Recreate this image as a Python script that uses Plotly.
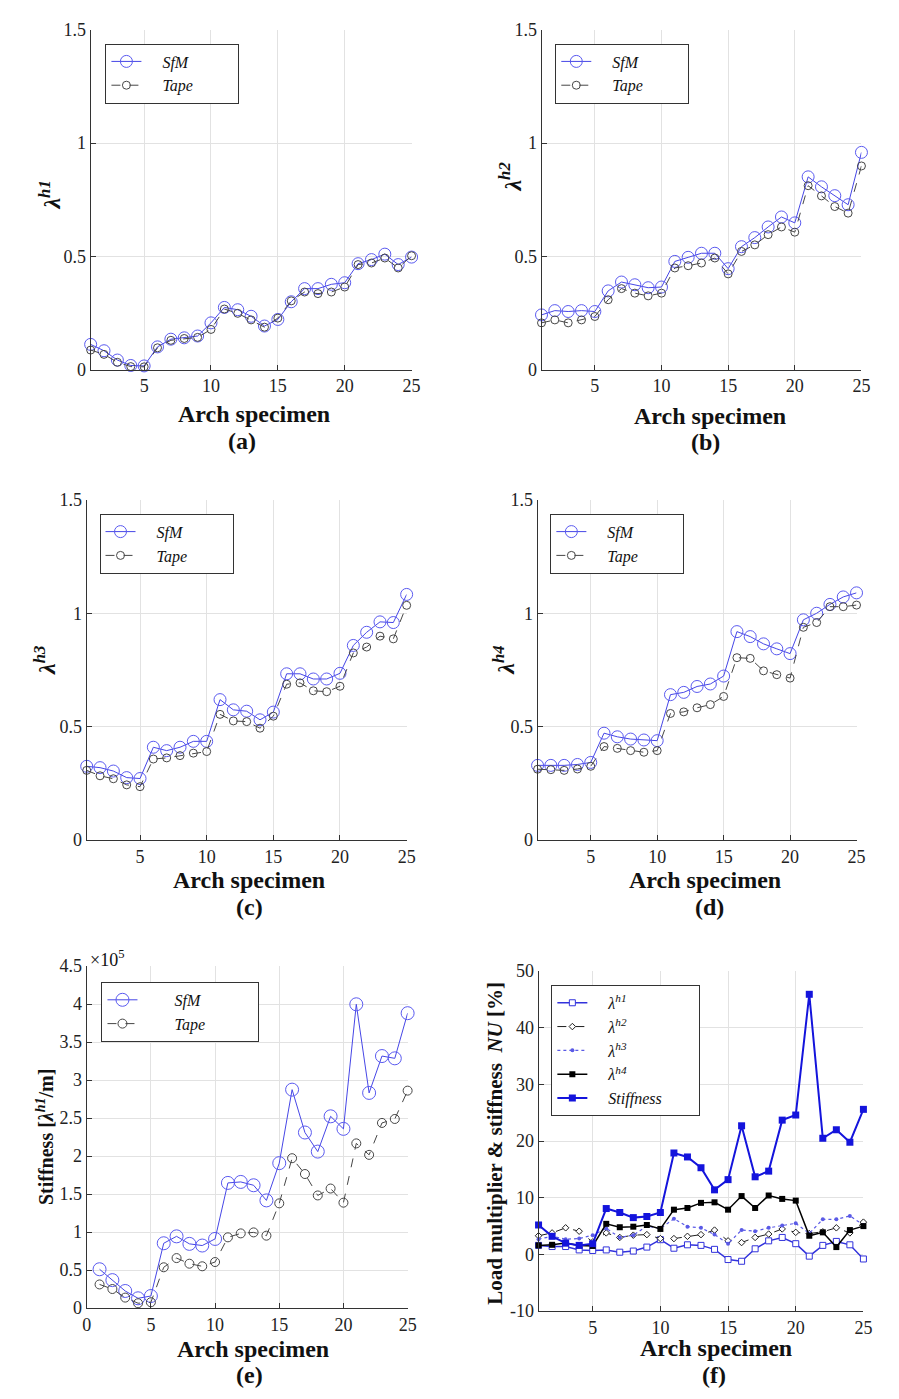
import plotly.graph_objects as go

W, H = 899, 1399
FONT = "Liberation Serif"

specimen = list(range(1, 26))

# (a) lambda h1
lh1_sfm = [0.112, 0.084, 0.043, 0.019, 0.017, 0.101, 0.135, 0.141, 0.149, 0.207,
           0.275, 0.265, 0.236, 0.193, 0.222, 0.300, 0.358, 0.358, 0.377, 0.384,
           0.468, 0.486, 0.510, 0.464, 0.497]
lh1_tape = [0.087, 0.068, 0.033, 0.014, 0.013, 0.097, 0.130, 0.138, 0.143, 0.178,
            0.268, 0.249, 0.220, 0.188, 0.228, 0.304, 0.343, 0.336, 0.343, 0.365,
            0.464, 0.471, 0.493, 0.449, 0.503]
# (b) lambda h2
lh2_sfm = [0.242, 0.261, 0.257, 0.261, 0.257, 0.348, 0.387, 0.375, 0.362, 0.365,
           0.478, 0.496, 0.514, 0.514, 0.446, 0.543, 0.583, 0.630, 0.674, 0.648,
           0.851, 0.807, 0.768, 0.728, 0.959]
lh2_tape = [0.207, 0.220, 0.207, 0.220, 0.235, 0.309, 0.358, 0.338, 0.326, 0.338,
            0.449, 0.459, 0.471, 0.493, 0.423, 0.522, 0.551, 0.596, 0.630, 0.607,
            0.812, 0.767, 0.720, 0.691, 0.899]
# (c) lambda h3
lh3_sfm = [0.325, 0.319, 0.304, 0.275, 0.271, 0.409, 0.394, 0.409, 0.435, 0.435,
           0.619, 0.574, 0.568, 0.530, 0.564, 0.733, 0.733, 0.710, 0.710, 0.735,
           0.858, 0.916, 0.962, 0.959, 1.083]
lh3_tape = [0.307, 0.283, 0.270, 0.243, 0.235, 0.357, 0.362, 0.372, 0.383, 0.390,
            0.554, 0.525, 0.522, 0.493, 0.546, 0.687, 0.693, 0.658, 0.654, 0.678,
            0.825, 0.851, 0.899, 0.887, 1.035]
# (d) lambda h4
lh4_sfm = [0.329, 0.329, 0.329, 0.333, 0.342, 0.471, 0.455, 0.445, 0.441, 0.438,
           0.641, 0.651, 0.677, 0.688, 0.723, 0.919, 0.897, 0.865, 0.843, 0.822,
           0.971, 1.000, 1.039, 1.072, 1.090]
lh4_tape = [0.312, 0.310, 0.307, 0.313, 0.325, 0.412, 0.404, 0.394, 0.387, 0.394,
            0.558, 0.565, 0.583, 0.597, 0.633, 0.804, 0.801, 0.746, 0.729, 0.714,
            0.938, 0.959, 1.029, 1.029, 1.036]
# (e) stiffness [lambda h1 / m]
stiff_sfm = [0.512e5, 0.369e5, 0.226e5, 0.130e5, 0.160e5, 0.854e5, 0.945e5, 0.846e5, 0.824e5, 0.911e5,
             1.648e5, 1.661e5, 1.617e5, 1.418e5, 1.908e5, 2.875e5, 2.311e5, 2.060e5, 2.524e5, 2.359e5,
             3.998e5, 2.832e5, 3.317e5, 3.287e5, 3.881e5]
stiff_tape = [0.312e5, 0.252e5, 0.139e5, 0.065e5, 0.078e5, 0.538e5, 0.659e5, 0.585e5, 0.551e5, 0.607e5,
              0.932e5, 0.984e5, 0.997e5, 0.954e5, 1.379e5, 1.973e5, 1.765e5, 1.483e5, 1.574e5, 1.388e5,
              2.168e5, 2.017e5, 2.437e5, 2.489e5, 2.862e5]
# (f) NU [%]
nu_h1 = [1.6, 1.4, 1.4, 0.8, 0.7, 0.8, 0.4, 0.6, 1.3, 2.6,
         1.1, 1.7, 1.6, 0.9, -0.9, -1.2, 1.0, 2.4, 3.0, 1.9,
         -0.3, 1.6, 2.3, 1.7, -0.8]
nu_h2 = [3.3, 3.8, 4.7, 4.1, 2.2, 3.8, 3.0, 3.4, 3.5, 2.8,
         2.8, 3.2, 3.5, 4.3, 2.4, 2.1, 3.0, 3.6, 4.5, 3.9,
         3.7, 4.0, 4.7, 3.8, 5.7]
nu_h3 = [2.7, 3.2, 2.7, 2.8, 3.4, 4.6, 3.0, 3.4, 5.0, 4.6,
         6.3, 4.9, 4.7, 3.5, 1.9, 4.3, 4.1, 4.7, 5.1, 5.5,
         3.7, 6.2, 6.2, 6.8, 5.2]
nu_h4 = [1.6, 1.7, 2.0, 1.6, 1.5, 5.4, 4.8, 4.9, 5.2, 4.5,
         7.9, 8.2, 9.1, 9.2, 7.9, 10.3, 8.2, 10.4, 9.8, 9.5,
         3.3, 3.9, 1.3, 4.3, 5.0]
nu_stiff = [5.2, 3.2, 2.0, 1.6, 1.9, 8.1, 7.4, 6.5, 6.7, 7.4,
            17.9, 17.2, 15.3, 11.4, 13.2, 22.7, 13.7, 14.7, 23.7, 24.6,
            45.9, 20.5, 22.0, 19.8, 25.6]


def px(x):
    return x / W


def py(y):
    return 1 - y / H


BLUE = "rgb(70,70,230)"
BLUE_M = "rgb(90,90,240)"
GREY = "rgb(70,70,70)"
EM = "\u2003"
EN = "\u2002"

fig = go.Figure()

# panel geometry (pixels): left, right, top, bottom
panels = [
    dict(l=87, r=413, t=20, b=365),
    dict(l=545, r=870, t=20, b=365),
    dict(l=83, r=408, t=497, b=842),
    dict(l=541, r=865, t=497, b=842),
    dict(l=83, r=409, t=970, b=1317),
    dict(l=542, r=872, t=975, b=1320),
]

legend_pos = [(102, 34), (559, 34), (96, 511), (554, 511), (98, 986), (555, 989)]
legend_lead = [EM, EM, EM, EM, EM * 2, EM]
legend_pad = [EM * 2 + EN, EM * 2 + EN, EM * 2 + EN, EM * 2 + EN, EM * 3, EM * 2]

pairs = [(lh1_sfm, lh1_tape), (lh2_sfm, lh2_tape), (lh3_sfm, lh3_tape),
         (lh4_sfm, lh4_tape), (stiff_sfm, stiff_tape)]

for i, (sfm, tape) in enumerate(pairs):
    n = i + 1
    xa = "x" if n == 1 else f"x{n}"
    ya = "y" if n == 1 else f"y{n}"
    lg = "legend" if n == 1 else f"legend{n}"
    big = 13 if n == 5 else 12
    small = 9 if n == 5 else 8
    fig.add_trace(go.Scatter(
        x=specimen, y=sfm, mode="lines+markers",
        name=legend_lead[i] + "<i>SfM</i>" + legend_pad[i],
        line=dict(color=BLUE, width=1),
        marker=dict(symbol="circle-open", size=big, color=BLUE_M, line=dict(width=1)),
        xaxis=xa, yaxis=ya, legend=lg, cliponaxis=False))
    fig.add_trace(go.Scatter(
        x=specimen, y=tape, mode="lines+markers",
        name=legend_lead[i] + "<i>Tape</i>" + legend_pad[i],
        line=dict(color=GREY, width=1, dash="dash"),
        marker=dict(symbol="circle-open", size=small, color=GREY, line=dict(width=1)),
        xaxis=xa, yaxis=ya, legend=lg, cliponaxis=False))

# panel (f)
f_series = [
    (nu_h1, "<i>λ<sup>h1</sup></i>", dict(color="rgb(50,50,220)", width=1.5),
     dict(symbol="square", size=6, color="white", line=dict(color="rgb(50,50,220)", width=1))),
    (nu_h2, "<i>λ<sup>h2</sup></i>", dict(color="rgb(30,30,30)", width=1, dash="dash"),
     dict(symbol="diamond", size=5, color="white", line=dict(color="rgb(30,30,30)", width=1))),
    (nu_h3, "<i>λ<sup>h3</sup></i>", dict(color="rgb(90,90,230)", width=1.2, dash="dot"),
     dict(symbol="circle", size=4, color="rgb(90,90,230)")),
    (nu_h4, "<i>λ<sup>h4</sup></i>", dict(color="rgb(0,0,0)", width=1.5),
     dict(symbol="square", size=6, color="black")),
    (nu_stiff, "<i>Stiffness</i>", dict(color="rgb(20,20,220)", width=2),
     dict(symbol="square", size=7, color="rgb(20,20,220)")),
]
for ys, name, ln, mk in f_series:
    fig.add_trace(go.Scatter(x=specimen, y=ys, mode="lines+markers",
                             name=legend_lead[5] + name + legend_pad[5],
                             line=ln, marker=mk, xaxis="x6", yaxis="y6",
                             legend="legend6", cliponaxis=False))

layout = dict(width=W, height=H, margin=dict(l=0, r=0, t=0, b=0),
              paper_bgcolor="white", plot_bgcolor="white",
              font=dict(family=FONT, color="#111", size=17))


def axis_common():
    return dict(showgrid=True, gridcolor="#e2e2e2", gridwidth=1, showline=True,
                linecolor="#333", linewidth=1, ticks="inside", ticklen=5,
                tickcolor="#333", zeroline=False,
                tickfont=dict(family=FONT, size=18, color="#222"))


for i, p in enumerate(panels):
    n = i + 1
    xk = "xaxis" if n == 1 else f"xaxis{n}"
    yk = "yaxis" if n == 1 else f"yaxis{n}"
    ya = "y" if n == 1 else f"y{n}"
    xa = "x" if n == 1 else f"x{n}"
    xax = axis_common()
    xax.update(domain=[px(p["l"]), px(p["r"])], anchor=ya)
    if n == 5:
        xax.update(range=[0, 25], tickvals=[0, 5, 10, 15, 20, 25])
    else:
        xax.update(range=[1, 25], tickvals=[5, 10, 15, 20, 25])
    yax = axis_common()
    yax.update(domain=[py(p["b"]), py(p["t"])], anchor=xa)
    if n <= 4:
        yax.update(range=[0, 1.5], tickvals=[0, 0.5, 1, 1.5], ticktext=["0", "0.5", "1", "1.5"])
    elif n == 5:
        tv = [k * 0.5e5 for k in range(10)]
        yax.update(range=[0, 4.5e5], tickvals=tv,
                   ticktext=["0", "0.5", "1", "1.5", "2", "2.5", "3", "3.5", "4", "4.5"])
    else:
        yax.update(range=[-10, 50], tickvals=[-10, 0, 10, 20, 30, 40, 50],
                   ticktext=["-10", "0", "10", "20", "30", "40", "50"])
    layout[xk] = xax
    layout[yk] = yax

for i, (lx, ly) in enumerate(legend_pos):
    n = i + 1
    key = "legend" if n == 1 else f"legend{n}"
    layout[key] = dict(x=px(lx), y=py(ly), xanchor="left", yanchor="top",
                       bgcolor="white", bordercolor="#333", borderwidth=1,
                       font=dict(family=FONT, size=16, color="#111"),
                       tracegroupgap=0, itemwidth=30)

annotations = []


def ann(text, x, y, size, angle=0):
    annotations.append(dict(text=text, x=px(x), y=py(y), xref="paper", yref="paper",
                            showarrow=False, textangle=angle, xanchor="center",
                            yanchor="middle", font=dict(family=FONT, size=size, color="#111")))


xt = [(253, 410), (716, 412), (248, 883), (711, 883), (252, 1358), (722, 1357)]
lab = [(241, 437, "(a)"), (712, 438, "(b)"), (248, 910, "(c)"),
       (716, 910, "(d)"), (248, 1385, "(e)"), (720, 1385, "(f)")]
for (x, y) in xt:
    ann("<b>Arch specimen</b>", x, y, 24)
for (x, y, t) in lab:
    ann(f"<b>{t}</b>", x, y, 24)

ann("<b><i>λ<sup>h1</sup></i></b>", 46, 188, 24, -90)
ann("<b><i>λ<sup>h2</sup></i></b>", 513, 170, 24, -90)
ann("<b><i>λ<sup>h3</sup></i></b>", 40, 660, 24, -90)
ann("<b><i>λ<sup>h4</sup></i></b>", 506, 660, 24, -90)
ann("<b>Stiffness [<i>λ<sup>h1</sup></i>/m]</b>", 40, 1143, 20, -90)
ann("<b>Load multiplier &amp; stiffness  <i>NU</i> [%]</b>", 497, 1150, 21, -90)
ann("×10<sup>5</sup>", 104, 962, 18)

layout["annotations"] = annotations
fig.update_layout(**layout)
fig.write_html("out.html")
